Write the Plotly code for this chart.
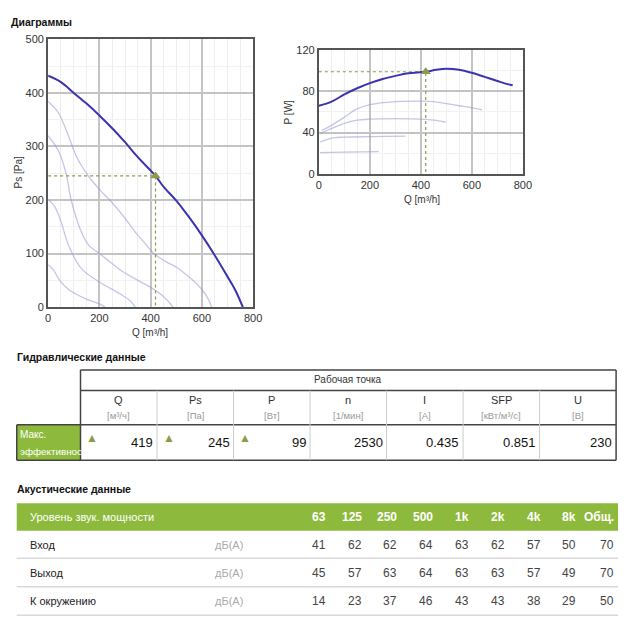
import plotly.graph_objects as go

# ---------------- data ----------------
q_main = [0, 50, 100, 150, 200, 250, 300, 350, 419, 450, 500, 550, 600, 650, 700, 730, 760]
ps_main = [432, 420, 400, 380, 358, 334, 308, 280, 245, 225, 199, 168, 134, 97, 57, 32, 0]

q_a = [0, 40, 75, 115, 160, 200, 250, 300, 340, 380, 413, 460, 503, 540, 570, 600, 625, 638]
ps_a = [384, 363, 325, 277, 243, 220, 195, 166, 140, 118, 100, 85, 74, 60, 48, 33, 15, 0]
q_b = [0, 40, 70, 90, 130, 160, 200, 240, 280, 350, 400, 450, 470, 487]
ps_b = [320, 292, 250, 200, 140, 115, 100, 85, 70, 50, 37, 20, 10, 0]
q_c = [0, 25, 50, 80, 130, 200, 280, 320, 340]
ps_c = [201, 188, 160, 115, 72, 47, 25, 12, 0]
q_d = [0, 20, 45, 80, 110, 150, 200, 222]
ps_d = [79, 70, 50, 33, 24, 15, 6, 0]

qp_main = [0, 50, 100, 150, 200, 250, 300, 350, 419, 460, 500, 550, 600, 650, 700, 740, 760]
p_main = [66, 70, 77, 83, 88, 92, 95, 97.5, 99, 101, 102, 101, 98, 94, 90, 87, 86]
qp_a = [10, 50, 100, 150, 200, 300, 400, 450, 500, 550, 600, 640]
p_a = [42, 47, 55, 63, 67, 70, 70.5, 70, 68, 66, 64, 62]
qp_b = [5, 50, 100, 150, 200, 300, 400, 450, 497]
p_b = [39, 44, 49, 52, 53, 53.5, 53, 52, 50]
qp_c = [5, 30, 60, 100, 200, 340]
p_c = [31, 33, 35, 35.5, 36, 36.5]
qp_d = [5, 100, 235]
p_d = [20.5, 21, 21.5]

q_op, ps_op, p_op = 419, 245, 99

hyd_cols = ["Q", "Ps", "P", "n", "I", "SFP", "U"]
hyd_units = ["[м³/ч]", "[Па]", "[Вт]", "[1/мин]", "[А]", "[кВт/м³/с]", "[В]"]
hyd_vals = ["419", "245", "99", "2530", "0.435", "0.851", "230"]
hyd_marked = [True, True, True, False, False, False, False]

bands = ["63", "125", "250", "500", "1k", "2k", "4k", "8k", "Общ."]
ac_rows = ["Вход", "Выход", "К окружению"]
ac_vals = [
    [41, 62, 62, 64, 63, 62, 57, 50, 70],
    [45, 57, 63, 64, 63, 63, 57, 49, 70],
    [14, 23, 37, 46, 43, 43, 38, 29, 50],
]

# ---------------- helpers ----------------
W = H = 630
FONT = "Liberation Sans, Arial, sans-serif"
GREEN = "#8dba3c"
OLIVE = "#8c9a4a"
MAIN = "#3a34b0"
FAINT = "rgba(150,150,215,0.55)"


def X(px):
    return px / W


def Y(py):
    return 1 - py / H


fig = go.Figure()

for qq, pp in [(q_a, ps_a), (q_b, ps_b), (q_c, ps_c), (q_d, ps_d)]:
    fig.add_trace(go.Scatter(x=qq, y=pp, mode="lines", line=dict(color=FAINT, width=1.3, shape="spline"),
                             xaxis="x", yaxis="y", hoverinfo="skip"))
fig.add_trace(go.Scatter(x=[0, q_op, q_op], y=[ps_op, ps_op, 0], mode="lines",
                         line=dict(color=OLIVE, width=1.2, dash="dot"), xaxis="x", yaxis="y"))
fig.add_trace(go.Scatter(x=q_main, y=ps_main, mode="lines", line=dict(color=MAIN, width=2, shape="spline"),
                         xaxis="x", yaxis="y"))
fig.add_trace(go.Scatter(x=[q_op], y=[ps_op], mode="markers",
                         marker=dict(symbol="triangle-up", size=9, color=OLIVE), xaxis="x", yaxis="y"))

for qq, pp in [(qp_a, p_a), (qp_b, p_b), (qp_c, p_c), (qp_d, p_d)]:
    fig.add_trace(go.Scatter(x=qq, y=pp, mode="lines", line=dict(color=FAINT, width=1.3, shape="spline"),
                             xaxis="x2", yaxis="y2"))
fig.add_trace(go.Scatter(x=[0, q_op, q_op], y=[p_op, p_op, 0], mode="lines",
                         line=dict(color=OLIVE, width=1.2, dash="dot"), xaxis="x2", yaxis="y2"))
fig.add_trace(go.Scatter(x=qp_main, y=p_main, mode="lines", line=dict(color=MAIN, width=2, shape="spline"),
                         xaxis="x2", yaxis="y2"))
fig.add_trace(go.Scatter(x=[q_op], y=[p_op], mode="markers",
                         marker=dict(symbol="triangle-up", size=9, color=OLIVE), xaxis="x2", yaxis="y2"))

ax = dict(showgrid=True, gridcolor="#c4c4c4", gridwidth=2, zeroline=False, showline=True, mirror=True,
          linecolor="#555555", linewidth=2, ticks="", tickfont=dict(size=11, color="#333", family=FONT),
          fixedrange=True)

fig.update_layout(
    width=W, height=H, margin=dict(l=0, r=0, t=0, b=0), showlegend=False,
    paper_bgcolor="white", plot_bgcolor="white", font=dict(family=FONT),
    xaxis=dict(ax, domain=[X(46), X(255)], range=[0, 800], dtick=200, anchor="y",
               minor=dict(showgrid=True, dtick=50, gridcolor="#eeeeee", gridwidth=1)),
    yaxis=dict(ax, domain=[Y(307), Y(34)], range=[0, 500], dtick=100, anchor="x",
               minor=dict(showgrid=True, dtick=50, gridcolor="#f2f2f2", gridwidth=1)),
    xaxis2=dict(ax, domain=[X(322), X(530)], range=[0, 800], dtick=200, anchor="y2",
                minor=dict(showgrid=True, dtick=50, gridcolor="#eeeeee", gridwidth=1)),
    yaxis2=dict(ax, domain=[Y(171), Y(45)], range=[0, 120], dtick=40, anchor="x2",
                minor=dict(showgrid=True, dtick=20, gridcolor="#f2f2f2", gridwidth=1)),
)

ann = []
shapes = []


def txt(x, y, s, size=11, color="#222", anchor="left", bold=False, angle=0):
    if bold:
        s = "<b>" + s + "</b>"
    ann.append(dict(x=X(x), y=Y(y), xref="paper", yref="paper", text=s, showarrow=False,
                    xanchor=anchor, yanchor="middle", textangle=angle, borderpad=0,
                    font=dict(size=size, color=color, family=FONT)))


def line(x0, y0, x1, y1, color="#333", width=1):
    shapes.append(dict(type="line", xref="paper", yref="paper", x0=X(x0), y0=Y(y0), x1=X(x1), y1=Y(y1),
                       line=dict(color=color, width=width)))


def rect(x0, y0, x1, y1, fill):
    shapes.append(dict(type="rect", xref="paper", yref="paper", x0=X(x0), y0=Y(y0), x1=X(x1), y1=Y(y1),
                       fillcolor=fill, line=dict(color=fill, width=0), layer="below"))


txt(7, 16, "Диаграммы", 10.5, "#111", bold=True)
txt(16, 170, "Ps [Pa]", 10, "#333", anchor="center", angle=-90)
txt(150, 333, "Q [m³/h]", 10, "#333", anchor="center")
txt(291, 108, "P [W]", 10, "#333", anchor="center", angle=-90)
txt(427, 197, "Q [m³/h]", 10, "#333", anchor="center")

txt(13, 358, "Гидравлические данные", 10.5, "#111", bold=True)
T0, T1, T2, T3 = 371, 392, 427, 463
L0, CW = 79, 78
R = L0 + CW * len(hyd_cols)
rect(14, T2, L0, T3, GREEN)
line(L0, T0, R, T0, "#444", 1.5)
line(L0, T1, R, T1, "#444", 1.5)
line(14, T2, R, T2, "#444", 1.5)
line(14, T3, R, T3, "#444", 1.5)
line(L0, T0, L0, T3, "#444", 1.5)
line(R, T0, R, T3, "#444", 1.5)
line(14, T2, 14, T3, "#444", 1.5)
txt((L0 + R) / 2, 381, "Рабочая точка", 10, "#333", anchor="center")
for i, (c, u, v, m) in enumerate(zip(hyd_cols, hyd_units, hyd_vals, hyd_marked)):
    x0 = L0 + i * CW
    if i > 0:
        line(x0, T1, x0, T3, "#cccccc", 1)
    txt(x0 + CW / 2, 402, c, 11, "#333", anchor="center")
    txt(x0 + CW / 2, 417, u, 9.5, "#999", anchor="center")
    txt(x0 + CW - 3, 445, v, 13, "#111", anchor="right")
    if m:
        txt(x0 + 12, 440, "▲", 12, OLIVE, anchor="center")
txt(16, 437, "Макс.", 10, "white")
txt(16, 454, "эффективнос", 9.8, "white")

txt(13, 492, "Акустические данные", 10.5, "#111", bold=True)
rect(14, 507, 627, 535, GREEN)
txt(27, 521, "Уровень звук. мощности", 11, "white")
right_edges = [330 + 36.5 * i for i in range(len(bands))]
right_edges[-1] = 624
for b, xr in zip(bands, right_edges):
    txt(xr, 521, b, 12, "white", anchor="right", bold=True)
for r, (name, vals) in enumerate(zip(ac_rows, ac_vals)):
    yc = 549 + 29 * r
    txt(27, yc, name, 11, "#222")
    txt(215, yc, "дБ(А)", 11, "#aaaaaa")
    for v, xr in zip(vals, right_edges):
        txt(xr, yc, str(v), 12, "#444", anchor="right")
    line(14, yc + 14, 627, yc + 14, "#d9d9d9", 1.5)

fig.update_layout(annotations=ann, shapes=shapes)
fig.write_html("out.html", config={"displayModeBar": False},
               post_script="document.body.style.margin='0';")
